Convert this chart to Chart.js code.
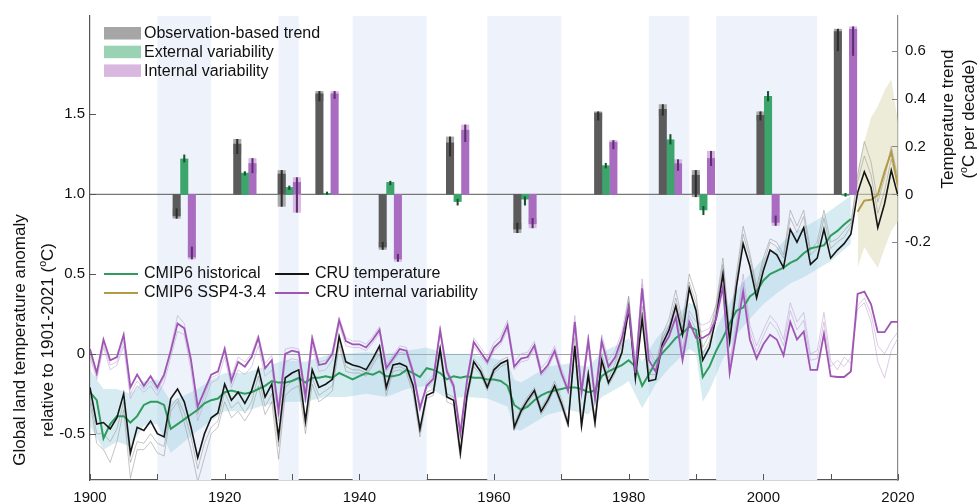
<!DOCTYPE html>
<html>
<head>
<meta charset="utf-8">
<script src="https://cdn.jsdelivr.net/npm/chart.js@4.4.0/dist/chart.umd.min.js"></script>
<style>
  html, body { margin: 0; padding: 0; background: #fff; }
  canvas { display: block; }
</style>
</head>
<body>
<canvas id="chart" width="979" height="504"></canvas>
<script>
// ---- data ----
// annual lines are plotted at 1900..2020
const years = [];
for (let y = 1900; y <= 2020; y++) years.push(y);

// CRU temperature (black)
const cruTemp = [
  -0.21,-0.44,-0.43,-0.47,-0.40,-0.25,-0.62,-0.46,-0.48,-0.42,
  -0.50,-0.52,-0.28,-0.22,-0.30,-0.46,-0.65,-0.50,-0.40,-0.37,
  -0.19,-0.29,-0.24,-0.31,-0.23,-0.09,-0.27,-0.19,-0.52,-0.15,
  -0.12,-0.10,-0.42,-0.10,-0.21,-0.19,-0.16,0.11,-0.05,-0.07,
  -0.08,-0.10,-0.03,0.05,-0.21,-0.07,-0.06,-0.08,-0.20,-0.47,
  -0.26,-0.24,0.03,-0.27,-0.29,-0.62,-0.26,-0.05,-0.11,-0.21,
  -0.10,-0.06,-0.04,-0.46,-0.36,-0.29,-0.23,-0.36,-0.29,-0.20,
  -0.31,-0.44,0.05,-0.45,-0.13,-0.43,-0.04,-0.18,-0.10,0.01,
  0.28,-0.155,0.22,-0.17,-0.16,0.06,0.15,0.30,0.12,0.41,
  0.27,-0.04,0.04,0.23,0.50,0.08,0.42,0.69,0.55,0.35,
  0.52,0.65,0.62,0.54,0.78,0.70,0.79,0.56,0.60,0.78,
  0.60,0.65,0.69,0.75,1.01,1.14,1.04,0.79,0.94,1.15,0.99
];
// other observation-based members (faint grey)
const obsMemberA = [
  -0.26,-0.50,-0.50,-0.55,-0.47,-0.30,-0.68,-0.55,-0.56,-0.50,
  -0.56,-0.58,-0.33,-0.28,-0.37,-0.52,-0.72,-0.56,-0.46,-0.42,
  -0.24,-0.34,-0.30,-0.37,-0.30,-0.14,-0.33,-0.25,-0.58,-0.21,
  -0.17,-0.16,-0.46,-0.15,-0.26,-0.23,-0.20,0.08,-0.08,-0.10,
  -0.10,-0.12,-0.05,0.03,-0.23,-0.09,-0.08,-0.10,-0.22,-0.49,
  -0.24,-0.22,0.05,-0.25,-0.27,-0.60,-0.24,-0.03,-0.08,-0.19,
  -0.08,-0.04,-0.02,-0.44,-0.34,-0.27,-0.21,-0.34,-0.27,-0.17,
  -0.28,-0.41,0.10,-0.42,-0.10,-0.40,0.00,-0.15,-0.06,0.06,
  0.36,-0.10,0.30,-0.10,-0.10,0.12,0.22,0.40,0.20,0.50,
  0.37,0.04,0.12,0.32,0.60,0.15,0.50,0.80,0.63,0.42,
  0.60,0.72,0.70,0.62,0.90,0.80,0.90,0.65,0.70,0.90,
  0.70,0.72,0.77,0.82,1.12,1.33,1.20,0.95,1.10,1.30,1.10
];
const obsMemberB = [
  -0.30,-0.56,-0.60,-0.68,-0.55,-0.35,-0.78,-0.60,-0.60,-0.55,
  -0.62,-0.64,-0.36,-0.30,-0.43,-0.60,-0.80,-0.65,-0.50,-0.46,
  -0.30,-0.40,-0.36,-0.42,-0.35,-0.20,-0.38,-0.30,-0.66,-0.26,
  -0.22,-0.20,-0.50,-0.19,-0.30,-0.27,-0.23,0.05,-0.11,-0.12,
  -0.12,-0.14,-0.07,0.00,-0.26,-0.11,-0.10,-0.12,-0.25,-0.52,
  -0.28,-0.26,0.00,-0.30,-0.32,-0.66,-0.29,-0.08,-0.13,-0.23,
  -0.12,-0.08,-0.06,-0.48,-0.38,-0.31,-0.25,-0.38,-0.31,-0.22,
  -0.33,-0.46,0.03,-0.47,-0.15,-0.46,-0.06,-0.20,-0.12,0.00,
  0.32,-0.13,0.26,-0.13,-0.13,0.09,0.18,0.35,0.16,0.45,
  0.32,0.00,0.08,0.28,0.56,0.12,0.46,0.75,0.60,0.40,
  0.56,0.70,0.67,0.60,0.85,0.76,0.86,0.62,0.66,0.85,
  0.66,0.70,0.73,0.80,1.08,1.24,1.12,0.88,1.02,1.22,1.05
];
// CRU internal variability (purple)
const cruInternal = [
  0.03,-0.12,0.09,-0.04,-0.02,0.12,-0.21,-0.13,-0.20,-0.14,
  -0.21,-0.13,0.02,0.19,0.16,-0.04,-0.33,-0.23,-0.13,-0.11,
  0.03,-0.17,-0.05,-0.08,-0.02,0.10,-0.09,-0.04,-0.36,0.00,
  0.02,0.01,-0.27,0.095,-0.07,-0.06,0.00,0.21,0.08,0.06,
  0.06,0.04,0.09,0.15,-0.09,-0.03,0.03,0.02,-0.12,-0.34,
  -0.20,-0.155,0.147,-0.11,-0.20,-0.50,-0.166,0.074,0.011,-0.05,
  0.04,0.08,0.178,-0.08,-0.03,-0.02,0.053,-0.12,-0.07,0.02,
  -0.12,-0.23,0.20,-0.24,0.084,-0.28,0.08,-0.08,-0.02,0.10,
  0.29,-0.12,0.41,-0.04,-0.11,0.04,0.11,0.23,-0.04,0.20,
  0.10,0.10,0.126,0.22,0.42,-0.12,0.13,0.39,0.09,-0.03,
  0.06,0.12,0.09,-0.01,0.20,0.09,0.14,-0.10,-0.10,0.126,
  -0.14,-0.145,-0.145,-0.11,0.376,0.39,0.31,0.136,0.136,0.20,0.20
];
const intMemberA = [
  -0.02,-0.16,0.04,-0.10,-0.07,0.05,-0.28,-0.20,-0.24,-0.20,
  -0.26,-0.18,-0.02,0.14,0.12,-0.10,-0.42,-0.30,-0.18,-0.16,
  -0.02,-0.21,-0.10,-0.13,-0.08,0.05,-0.14,-0.10,-0.42,-0.05,
  -0.03,-0.04,-0.31,0.05,-0.11,-0.10,-0.04,0.18,0.05,0.04,
  0.04,0.02,0.07,0.13,-0.11,-0.05,0.01,0.00,-0.14,-0.36,
  -0.18,-0.13,0.17,-0.09,-0.18,-0.47,-0.14,0.10,0.04,-0.02,
  0.07,0.11,0.21,-0.05,0.00,0.01,0.08,-0.09,-0.04,0.05,
  -0.09,-0.20,0.24,-0.20,0.12,-0.24,0.12,-0.04,0.02,0.14,
  0.36,-0.07,0.47,0.03,-0.05,0.10,0.17,0.30,0.03,0.27,
  0.20,0.18,0.20,0.30,0.52,-0.05,0.20,0.50,0.18,0.05,
  0.15,0.24,0.19,0.09,0.32,0.20,0.26,0.00,0.02,0.26,
  -0.04,-0.10,-0.02,-0.06,0.28,0.32,0.20,-0.05,-0.15,0.02,0.10
];
const intMemberB = [
  0.00,-0.14,0.06,-0.07,-0.05,0.08,-0.25,-0.17,-0.22,-0.17,
  -0.23,-0.15,0.04,0.24,0.19,-0.02,-0.38,-0.26,-0.15,-0.13,
  0.05,-0.14,-0.02,-0.05,0.00,0.12,-0.06,-0.01,-0.32,0.03,
  0.04,0.03,-0.24,0.12,-0.05,-0.04,0.02,0.23,0.10,0.08,
  0.08,0.06,0.11,0.17,-0.07,-0.01,0.05,0.04,-0.10,-0.32,
  -0.22,-0.17,0.13,-0.13,-0.22,-0.52,-0.19,0.05,-0.01,-0.07,
  0.02,0.06,0.15,-0.10,-0.05,-0.04,0.03,-0.14,-0.09,0.00,
  -0.14,-0.25,0.17,-0.26,0.06,-0.30,0.06,-0.10,-0.04,0.08,
  0.33,-0.09,0.44,0.00,-0.08,0.07,0.14,0.27,0.00,0.24,
  0.15,0.14,0.16,0.26,0.47,-0.08,0.17,0.45,0.14,0.01,
  0.11,0.20,0.15,0.05,0.27,0.15,0.21,-0.04,-0.03,0.20,
  -0.08,-0.04,-0.08,-0.02,0.30,0.35,0.25,0.05,0.00,0.08,0.14
];
// CMIP6 historical (1900..2013)
const cmipHist = [
  -0.24,-0.29,-0.53,-0.44,-0.39,-0.39,-0.43,-0.39,-0.32,-0.30,
  -0.30,-0.32,-0.47,-0.44,-0.41,-0.38,-0.35,-0.31,-0.29,-0.28,
  -0.24,-0.23,-0.24,-0.25,-0.24,-0.22,-0.20,-0.17,-0.18,-0.18,
  -0.17,-0.15,-0.18,-0.15,-0.15,-0.14,-0.15,-0.12,-0.14,-0.16,
  -0.14,-0.12,-0.13,-0.11,-0.14,-0.14,-0.13,-0.10,-0.12,-0.145,
  -0.09,-0.10,-0.12,-0.16,-0.14,-0.15,-0.14,-0.15,-0.15,-0.16,
  -0.16,-0.17,-0.20,-0.32,-0.35,-0.33,-0.29,-0.26,-0.24,-0.23,
  -0.22,-0.21,-0.21,-0.22,-0.24,-0.23,-0.14,-0.11,-0.09,-0.07,
  -0.04,-0.08,-0.20,-0.13,-0.05,0.005,0.05,0.10,0.13,0.17,
  0.15,-0.145,-0.08,0.02,0.10,0.19,0.27,0.29,0.36,0.39,
  0.46,0.50,0.52,0.54,0.57,0.59,0.63,0.66,0.67,0.68,
  0.74,0.77,0.81,0.845
];
// CMIP6 multi-model range around the historical mean
const bandYears = [1900,1902,1904,1906,1908,1910,1912,1914,1916,1918,1920,1923,1926,1929,1932,1935,1938,1941,1944,1947,1950,1953,1956,1959,1962,1963,1964,1966,1968,1971,1974,1976,1979,1980,1982,1984,1986,1989,1990,1991,1992,1994,1996,1998,2000,2002,2004,2006,2008,2010,2013];
const bandHi = [-0.10,-0.22,-0.22,-0.25,-0.17,-0.16,-0.30,-0.26,-0.22,-0.16,-0.12,-0.12,-0.08,-0.04,-0.05,-0.01,0.00,0.01,0.00,0.02,0.04,0.00,0.00,-0.02,-0.05,-0.16,-0.18,-0.13,-0.08,-0.06,-0.08,0.01,0.07,0.10,-0.05,0.09,0.19,0.32,0.30,0.02,0.07,0.24,0.40,0.50,0.60,0.66,0.75,0.79,0.84,0.90,0.99];
const bandLo = [-0.45,-0.60,-0.55,-0.58,-0.45,-0.44,-0.62,-0.55,-0.48,-0.42,-0.36,-0.36,-0.32,-0.30,-0.30,-0.27,-0.27,-0.25,-0.27,-0.22,-0.20,-0.28,-0.27,-0.28,-0.33,-0.47,-0.48,-0.43,-0.38,-0.35,-0.38,-0.27,-0.20,-0.17,-0.34,-0.19,-0.09,0.03,0.00,-0.30,-0.23,-0.03,0.12,0.22,0.31,0.38,0.44,0.48,0.53,0.58,0.69];
// CMIP6 SSP4-3.4 (2014..2020)
const sspYears = [2014,2015,2016,2017,2018,2019,2020];
const cmipSsp = [0.89,0.96,0.965,0.995,1.14,1.265,1.05];
const sspHi = [1.15,1.33,1.48,1.55,1.65,1.72,1.45];
const sspLo = [0.54,0.67,0.60,0.54,0.66,0.77,0.83];

// trend bars (right axis, oC per decade), one group per period
const periods = [[1910,1918],[1928,1931],[1939,1950],[1959,1970],[1983,1989],[1993,2008]];
const trendYears = [1914,1923,1929.6,1935.2,1944.6,1954.6,1964.6,1976.6,1986.2,1991.1,2000.7,2012.2];
const obsTrend = [-0.09,0.21,0.085,0.42,-0.22,0.215,-0.145,0.34,0.355,0.08,0.33,0.68];
const obsLo = [-0.10,0.17,-0.05,0.39,-0.23,0.16,-0.16,0.31,0.33,-0.01,0.31,0.60];
const obsHi = [-0.06,0.23,0.10,0.43,-0.20,0.24,-0.12,0.345,0.375,0.10,0.345,0.69];
const extTrend = [0.148,0.089,0.029,0.004,0.05,-0.03,-0.02,0.12,0.228,-0.065,0.41,-0.004];
const extLo = [0.135,0.08,0.02,0.0,0.04,-0.045,-0.045,0.11,0.21,-0.085,0.39,-0.008];
const extHi = [0.165,0.095,0.035,0.01,0.055,-0.02,-0.01,0.13,0.25,-0.05,0.43,0.004];
const intTrend = [-0.262,0.129,0.05,0.42,-0.27,0.268,-0.123,0.217,0.128,0.15,-0.117,0.689];
const intLo = [-0.27,0.09,-0.075,0.40,-0.28,0.22,-0.14,0.19,0.10,0.12,-0.13,0.58];
const intHi = [-0.22,0.15,0.07,0.43,-0.25,0.29,-0.10,0.225,0.145,0.18,-0.09,0.70];

// axis ticks
const xTicks = [1900,1910,1920,1930,1940,1950,1960,1970,1980,1990,2000,2010,2020];
const xLabels = [1900,1920,1940,1960,1980,2000,2020];
const leftTicks = [-0.5,0,0.5,1.0,1.5];
const rightTicks = [-0.2,0,0.2,0.4,0.6];

// ---- styling ----
const FONT = "'Liberation Sans', Arial, Helvetica, sans-serif";
const GREEN = '#2f9c5e', GOLD = '#b39a45', PURPLE = '#9e55b4', BLACK = '#151515';
const SHIFT = 1.13;   // years between neighbouring bars of a group
const BAR_W = 7.4;

function pts(xs, ys) { return ys.map((v, i) => ({ x: xs[i], y: v })); }
function barPts(dx, ys) { return ys.map((v, i) => ({ x: trendYears[i] + dx, y: v })); }
function rangePts(dx, lo, hi) { return lo.map((v, i) => ({ x: trendYears[i] + dx, y: [v, hi[i]] })); }

function line(label, data, color, width, order, extra) {
  return Object.assign({
    type: 'line', label, data, borderColor: color, borderWidth: width,
    pointRadius: 0, tension: 0, fill: false, order, yAxisID: 'y'
  }, extra || {});
}
function bar(label, data, color, width, order) {
  return {
    type: 'bar', label, data, backgroundColor: color, borderWidth: 0,
    barThickness: width, grouped: false, order, yAxisID: 'y2'
  };
}

const datasets = [
  line('band lo', pts(bandYears, bandLo), 'rgba(0,0,0,0)', 0, 30),
  line('band hi', pts(bandYears, bandHi), 'rgba(0,0,0,0)', 0, 30, { fill: '-1', backgroundColor: 'rgba(150,205,222,0.38)' }),
  line('ssp lo', pts(sspYears, sspLo), 'rgba(0,0,0,0)', 0, 30),
  line('ssp hi', pts(sspYears, sspHi), 'rgba(0,0,0,0)', 0, 30, { fill: '-1', backgroundColor: 'rgba(222,220,185,0.55)' }),
  line('obs A', pts(years, obsMemberA), 'rgba(150,150,150,0.55)', 1, 20),
  line('obs B', pts(years, obsMemberB), 'rgba(150,150,150,0.55)', 1, 20),
  line('int A', pts(years, intMemberA), 'rgba(190,160,210,0.55)', 1, 20),
  line('int B', pts(years, intMemberB), 'rgba(190,160,210,0.55)', 1, 20),
  line('CMIP6 historical', pts(years, cmipHist), GREEN, 2, 6),
  line('CMIP6 SSP4-3.4', pts(sspYears, cmipSsp), GOLD, 2, 6),
  line('CRU temperature', pts(years, cruTemp), BLACK, 1.6, 5),
  line('CRU internal variability', pts(years, cruInternal), PURPLE, 1.8, 4),

  bar('obs spread', rangePts(-SHIFT, obsLo, obsHi), '#a9a9a9', BAR_W, 3),
  bar('Observation-based trend', barPts(-SHIFT, obsTrend), '#5b5b5b', BAR_W, 2),
  bar('obs whisker', rangePts(-SHIFT, obsLo, obsHi), '#2e2e2e', 1.4, 1),
  bar('External variability', barPts(0, extTrend), '#3ba56b', BAR_W, 2),
  bar('ext whisker', rangePts(0, extLo, extHi), '#17532f', 1.4, 1),
  bar('int spread', rangePts(SHIFT, intLo, intHi), '#d9b9e2', BAR_W, 3),
  bar('Internal variability', barPts(SHIFT, intTrend), '#aa6cc1', BAR_W, 2),
  bar('int whisker', rangePts(SHIFT, intLo, intHi), '#5e2f72', 1.4, 1)
];

function drawRotated(ctx, segs, cx, cy, size) {
  ctx.save();
  ctx.translate(cx, cy);
  ctx.rotate(-Math.PI / 2);
  let w = 0;
  segs.forEach(s => { ctx.font = (s.sup ? size * 0.62 : size) + 'px ' + FONT; w += ctx.measureText(s.t).width; });
  let x0 = -w / 2;
  ctx.fillStyle = '#111';
  ctx.textBaseline = 'alphabetic';
  segs.forEach(s => {
    ctx.font = (s.sup ? size * 0.62 : size) + 'px ' + FONT;
    ctx.fillText(s.t, x0, size * 0.36 - (s.sup ? size * 0.42 : 0));
    x0 += ctx.measureText(s.t).width;
  });
  ctx.restore();
}

const decor = {
  id: 'decor',
  beforeDatasetsDraw(chart) {
    const { ctx, chartArea: a, scales: { x, y, y2 } } = chart;
    ctx.save();
    // shaded periods
    ctx.fillStyle = '#edf2fb';
    periods.forEach(p => {
      const x0 = x.getPixelForValue(p[0]), x1 = x.getPixelForValue(p[1]);
      ctx.fillRect(x0, a.top, x1 - x0, a.bottom - a.top);
    });
    // zero lines
    ctx.strokeStyle = '#a0a0a0';
    ctx.lineWidth = 1;
    let yy = Math.round(y.getPixelForValue(0)) + 0.5;
    ctx.beginPath(); ctx.moveTo(a.left, yy); ctx.lineTo(a.right, yy); ctx.stroke();
    ctx.strokeStyle = '#777';
    ctx.lineWidth = 1.3;
    yy = y2.getPixelForValue(0);
    ctx.beginPath(); ctx.moveTo(a.left, yy); ctx.lineTo(a.right, yy); ctx.stroke();
    ctx.restore();
  },
  afterDraw(chart) {
    const { ctx, chartArea: a, scales: { x, y, y2 } } = chart;
    ctx.save();
    // inward tick marks
    ctx.lineWidth = 1;
    ctx.strokeStyle = '#555';
    ctx.beginPath();
    leftTicks.forEach(v => { const p = Math.round(y.getPixelForValue(v)) + 0.5; ctx.moveTo(a.left, p); ctx.lineTo(a.left + 6, p); });
    xTicks.forEach(v => { const p = Math.round(x.getPixelForValue(v)) + 0.5; ctx.moveTo(p, a.bottom); ctx.lineTo(p, a.bottom - 6); });
    ctx.stroke();
    ctx.strokeStyle = '#888';
    ctx.beginPath();
    rightTicks.forEach(v => { const p = Math.round(y2.getPixelForValue(v)) + 0.5; ctx.moveTo(a.right, p); ctx.lineTo(a.right - 6, p); });
    ctx.stroke();

    // bar legend
    const barItems = [
      ['Observation-based trend', '#a6a6a6'],
      ['External variability', '#99d3b4'],
      ['Internal variability', '#d9b8df']
    ];
    ctx.font = '16px ' + FONT;
    ctx.textBaseline = 'middle';
    barItems.forEach((it, i) => {
      ctx.fillStyle = it[1];
      ctx.fillRect(104, 27 + i * 18.7, 37, 12.5);
      ctx.fillStyle = '#111';
      ctx.fillText(it[0], 144, 34 + i * 18.7);
    });

    // line legend
    const lineItems = [
      ['CMIP6 historical', GREEN, 104, 274],
      ['CMIP6 SSP4-3.4', GOLD, 104, 293],
      ['CRU temperature', BLACK, 275, 274],
      ['CRU internal variability', PURPLE, 275, 293]
    ];
    lineItems.forEach(it => {
      ctx.strokeStyle = it[1];
      ctx.lineWidth = 2;
      ctx.beginPath(); ctx.moveTo(it[2], it[3]); ctx.lineTo(it[2] + 34, it[3]); ctx.stroke();
      ctx.fillStyle = '#111';
      ctx.fillText(it[0], it[2] + 40, it[3]);
    });
    ctx.restore();

    // axis titles
    drawRotated(ctx, [{ t: 'Global land temperature anomaly' }], 19, 340, 17);
    drawRotated(ctx, [{ t: 'relative to 1901-2021 (' }, { t: 'o', sup: true }, { t: 'C)' }], 47, 340, 17);
    drawRotated(ctx, [{ t: 'Temperature trend' }], 947, 119, 17);
    drawRotated(ctx, [{ t: '(' }, { t: 'o', sup: true }, { t: 'C per decade)' }], 968, 119, 17);
  }
};

const fmt = v => (v === 0 ? '0' : v.toFixed(1));

new Chart(document.getElementById('chart'), {
  type: 'line',
  data: { datasets },
  options: {
    responsive: false,
    animation: false,
    devicePixelRatio: 1,
    layout: { padding: { top: 15, left: 0, right: 0, bottom: 0 } },
    plugins: { legend: { display: false }, tooltip: { enabled: false } },
    scales: {
      x: {
        type: 'linear', min: 1900, max: 2020, offset: false,
        grid: { display: false, drawTicks: false },
        border: { display: true, color: '#555', width: 1.2 },
        ticks: { font: { family: FONT, size: 15 }, color: '#111', padding: 9, autoSkip: false, maxRotation: 0, callback: v => String(v) },
        afterBuildTicks: s => { s.ticks = xLabels.map(v => ({ value: v })); },
        afterFit: s => { s.height = 24; }
      },
      y: {
        position: 'left', min: -0.79, max: 2.116, stacked: false,
        grid: { display: false, drawTicks: false },
        border: { display: true, color: '#555', width: 1.2 },
        ticks: { font: { family: FONT, size: 15 }, color: '#111', padding: 5, callback: fmt },
        afterBuildTicks: s => { s.ticks = leftTicks.map(v => ({ value: v })); },
        afterFit: s => { s.width = 90; }
      },
      y2: {
        position: 'right', min: -1.193, max: 0.745, stacked: false,
        grid: { display: false, drawTicks: false },
        border: { display: true, color: '#8a8a8a', width: 1.2 },
        ticks: { font: { family: FONT, size: 15 }, color: '#111', padding: 7, callback: fmt },
        afterBuildTicks: s => { s.ticks = rightTicks.map(v => ({ value: v })); },
        afterFit: s => { s.width = 81; }
      }
    }
  },
  plugins: [decor]
});
</script>
</body>
</html>
